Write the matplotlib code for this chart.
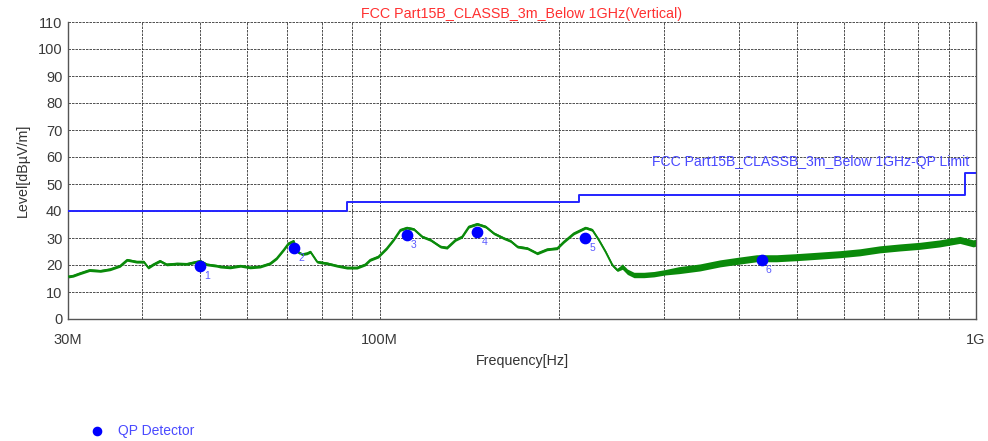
import matplotlib
matplotlib.use("Agg")
import matplotlib.pyplot as plt
from matplotlib.ticker import FixedLocator, NullFormatter, FixedFormatter
import numpy as np

# ---- data ----
trace_freq_mhz = [30.0, 30.6, 31.4, 32.6, 34.0, 35.3, 36.7, 37.7, 39.1, 40.2, 40.9, 41.7,
                  42.8, 43.9, 45.7, 47.5, 50.0, 51.3, 53.3, 54.0, 56.1, 58.4, 60.6, 63.0,
                  65.5, 67.2, 69.0, 70.3, 71.7, 72.8, 74.1, 75.5, 76.5, 78.5, 81.6, 84.8,
                  88.1, 91.6, 94.6, 96.4, 99.5, 102.8, 105.5, 108.3, 111.1, 114.0, 117.8,
                  121.6, 126.4, 129.7, 134.0, 137.5, 141.1, 145.7, 150.5, 155.4, 161.5,
                  165.7, 170.1, 176.8, 183.7, 190.9, 198.5, 203.6, 211.6, 221.4, 227.2,
                  233.0, 239.2, 245.5, 250.3, 255.2, 260.2, 266.9, 277.4, 288.3, 301.0,
                  317.8, 344.4, 372.1, 397.0, 428.7, 463.0, 500.0, 540.2, 591.0, 638.4,
                  689.8, 745.1, 805.0, 869.6, 939.4, 989.6, 1000.0]
trace_level = [15.7, 16.0, 16.9, 18.1, 17.8, 18.4, 19.7, 21.9, 21.2, 21.2, 19.0, 20.2,
               21.5, 20.2, 20.5, 20.4, 21.5, 20.2, 19.7, 19.4, 19.1, 19.7, 19.1, 19.4,
               20.6, 22.5, 25.6, 28.0, 28.9, 24.9, 24.0, 24.3, 24.9, 21.2, 20.6, 19.7,
               19.0, 19.0, 20.2, 21.9, 23.1, 26.2, 29.3, 33.0, 33.8, 33.3, 30.5,
               29.3, 26.8, 26.4, 29.3, 30.5, 34.2, 35.2, 34.2, 31.7, 29.9,
               28.9, 26.8, 26.2, 24.3, 25.8, 26.2, 28.6, 31.7, 33.8, 33.0,
               29.3, 24.9, 20.0, 18.1, 19.4, 17.5, 16.3, 16.3, 16.6, 17.3,
               18.1, 19.1, 20.6, 21.5, 22.5, 22.5, 22.9, 23.4, 24.0, 24.7,
               25.8, 26.5, 27.1, 28.0, 29.3, 28.0, 28.3]
trace_spread = [0.5] * 71 + [1.0] * 6 + [1.3] * 17

limit_freq_mhz = [30, 88, 88, 216, 216, 960, 960, 1000]
limit_level = [40, 40, 43.5, 43.5, 46, 46, 54, 54]

qp_freq_mhz = [50.0, 71.8, 111.0, 145.8, 221.0, 437.0]
qp_level = [19.5, 26.3, 31.0, 32.2, 30.0, 21.9]
qp_labels = ["1", "2", "3", "4", "5", "6"]

y_ticks = list(range(0, 111, 10))
x_major = [30e6, 100e6, 1e9]
x_major_labels = ["30M", "100M", "1G"]
x_minor = [40e6, 50e6, 60e6, 70e6, 80e6, 90e6, 200e6, 300e6, 400e6, 500e6,
           600e6, 700e6, 800e6, 900e6]

title = "FCC Part15B_CLASSB_3m_Below 1GHz(Vertical)"
limit_label = "FCC Part15B_CLASSB_3m_Below 1GHz-QP Limit"

FONT = "Liberation Sans"

# ---- figure ----
fig = plt.figure(figsize=(9.88, 4.41), dpi=100)
ax = fig.add_axes([68 / 988, 1 - 319 / 441, (976 - 68) / 988, (319 - 22) / 441])

f = np.array(trace_freq_mhz) * 1e6
lv = np.array(trace_level)
sp = np.array(trace_spread)

ax.set_xscale("log")
ax.set_xlim(30e6, 1e9)
ax.set_ylim(0, 110)

grid_kw = dict(color="#333333", lw=0.6, ls=(0, (3, 1.2)), zorder=1)
for xm in x_minor + [100e6]:
    ax.axvline(xm, **grid_kw)
for yt in y_ticks[1:]:
    ax.axhline(yt, **grid_kw)

ax.fill_between(f, lv - sp, lv + sp, color="#0a8a0a", lw=0, zorder=2)
ax.plot(f, lv, color="#0a8a0a", lw=1.4, zorder=3)

ax.plot(np.array(limit_freq_mhz) * 1e6, limit_level, color="#2424ff", lw=1.4, zorder=3)
ax.text(975e6, 58.3, limit_label, color="#4a4aff", fontsize=10.1,
        ha="right", va="center", zorder=4, family=FONT)

qp = ax.scatter(np.array(qp_freq_mhz) * 1e6, qp_level, s=55, color="#0000ff",
                zorder=5, label="QP Detector")
for fx, ly, lab in zip(qp_freq_mhz, qp_level, qp_labels):
    ax.annotate(lab, (fx * 1e6, ly), xytext=(5, -7), textcoords="offset points",
                color="#5a5aff", fontsize=7.5, ha="center", va="center",
                family=FONT)

ax.xaxis.set_major_locator(FixedLocator(x_major))
ax.xaxis.set_major_formatter(FixedFormatter(x_major_labels))
ax.xaxis.set_minor_locator(FixedLocator(x_minor))
ax.xaxis.set_minor_formatter(NullFormatter())
ax.set_yticks(y_ticks)
ax.tick_params(axis="both", which="both", length=0, labelsize=10.5,
               labelcolor="#3a3a3a")
ax.tick_params(axis="x", pad=10)
ax.tick_params(axis="y", pad=4)
for lab in ax.get_xticklabels() + ax.get_yticklabels():
    lab.set_family(FONT)

ax.spines["top"].set_visible(False)
for s in ["left", "bottom", "right"]:
    ax.spines[s].set_color("#555555")
    ax.spines[s].set_linewidth(1.0)

ax.set_xlabel("Frequency[Hz]", fontsize=10.3, color="#333333", family=FONT,
              labelpad=5)
ax.set_ylabel("Level[dBµV/m]", fontsize=10.3, color="#333333", family=FONT,
              labelpad=6)
ax.set_title(title, color="#ff3030", fontsize=10.3, family=FONT, pad=3)

fig.legend(handles=[qp], labels=["QP Detector"], loc="center left",
           bbox_to_anchor=(71 / 988, 1 - 431 / 441), frameon=False,
           labelcolor="#4a4aff", handletextpad=0.5, markerscale=0.8,
           prop={"family": FONT, "size": 10})

fig.savefig("out.png", dpi=100)
